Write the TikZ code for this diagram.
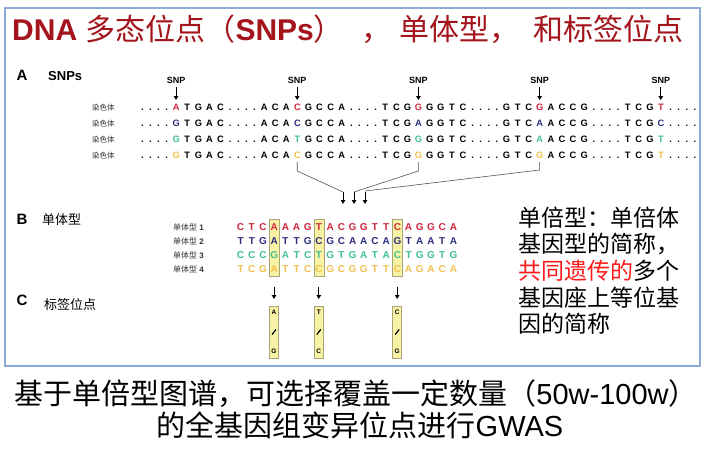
\documentclass[tikz,border=0pt]{standalone}
\usepackage{fontspec}
\setmainfont{Liberation Sans}
\newfontfamily\cjk{Noto Sans CJK SC}
\usetikzlibrary{arrows.meta}

\definecolor{framec}{HTML}{8EAADB}
\definecolor{titlered}{HTML}{A3141C}
\definecolor{sred}{HTML}{D0263A}
\definecolor{snavy}{HTML}{2B2F7E}
\definecolor{sgreen}{HTML}{3FBF98}
\definecolor{sgold}{HTML}{F1C04C}
\definecolor{hlfill}{HTML}{F8F3A4}
\definecolor{hlline}{HTML}{A9A37A}
\definecolor{linkc}{HTML}{555555}
\definecolor{notered}{HTML}{FF1A1A}

% chromosome rows: letters and dots on a fixed grid
\newcommand\cL[1]{\makebox[11.1pt][c]{#1}}
\newcommand\cD{\makebox[8.1pt][c]{.}}
\newcommand\cDots{\cD\cD\cD\cD}
\def\cSeq#1{\cSeqI#1\relax}
\def\cSeqI#1{\ifx\relax#1\else\cL{#1}\expandafter\cSeqI\fi}
\newcommand\chrom[6]{\cDots\cL{\textcolor{#1}{#2}}\cSeq{TGAC}\cDots
  \cSeq{ACA}\cL{\textcolor{#1}{#3}}\cSeq{GCCA}\cDots
  \cSeq{TCG}\cL{\textcolor{#1}{#4}}\cSeq{GGTC}\cDots
  \cSeq{GTC}\cL{\textcolor{#1}{#5}}\cSeq{ACCG}\cDots
  \cSeq{TCG}\cL{\textcolor{#1}{#6}}\cDots}

% haplotype rows: 20 letters on a fixed grid
\newcommand\hL[1]{\makebox[11.2pt][c]{#1}}
\def\hSeq#1{\hSeqI#1\relax}
\def\hSeqI#1{\ifx\relax#1\else\hL{#1}\expandafter\hSeqI\fi}

\tikzset{
  secletter/.style={font=\bfseries\fontsize{15}{15}\selectfont, inner sep=0pt},
  sectitle/.style={font=\fontsize{13}{13}\selectfont, inner sep=0pt, anchor=base west},
  snplabel/.style={font=\bfseries\fontsize{9}{9}\selectfont, inner sep=0pt},
  chrrow/.style={font=\bfseries\fontsize{9.3}{9.3}\selectfont, inner sep=0pt, anchor=base west},
  haprow/.style={font=\bfseries\fontsize{10}{10}\selectfont, inner sep=0pt, anchor=base west},
  rowlabel/.style={font=\cjk\fontsize{7.5}{7.5}\selectfont, inner sep=0pt, anchor=base west, text=black!80},
  downarrow/.style={-{Triangle[length=4pt,width=4.5pt]}, line width=1pt, black},
  link/.style={linkc, line width=0.6pt},
  hlbox/.style={fill=hlfill, draw=hlline, line width=0.5pt},
  markbox/.style={hlbox, minimum width=9pt, minimum height=52pt, inner sep=0pt},
  markletter/.style={font=\bfseries\fontsize{6.5}{6.5}\selectfont, inner sep=0pt},
  note/.style={font=\cjk\fontsize{23}{23}\selectfont, inner sep=0pt, anchor=base west},
  bottomline/.style={font=\fontsize{29}{29}\selectfont, inner sep=0pt, anchor=base},
}

\begin{document}
\begin{tikzpicture}[x=1pt,y=-1pt]
\useasboundingbox[fill=white] (0,0) rectangle (708,448);

% frame
\draw[framec, line width=1.3pt] (5,8) rectangle (700,366);

% heading
\node[inner sep=0pt, anchor=base west, text=titlered, font=\fontsize{30}{30}\selectfont]
  (title) at (12,40)
  {{\bfseries DNA} {\cjk 多态位点（}{\bfseries SNPs}{\cjk ）\hspace{18pt}，\hspace{8pt}单体型，\hspace{14pt}和标签位点}};

% ---------- A: SNPs ----------
\node[secletter] (secA) at (22,75) {A};
\node[sectitle, font=\bfseries\fontsize{13}{13}\selectfont] (titA) at (48,80) {SNPs};

\foreach \k in {1,...,5}{
  \pgfmathsetmacro\sx{176+(\k-1)*121.2}
  \coordinate (snp\k) at (\sx,0);
  \node[snplabel] (lab\k) at (\sx,80) {SNP};
  \draw[downarrow] (\sx,87) -- (\sx,100);
}

\foreach \r/\y in {1/110,2/126,3/142,4/158}{
  \node[rowlabel] (chl\r) at (92,\y) {染色体};
}
\node[chrrow] (chr1) at (138.05,110) {\chrom{sred}{A}{C}{G}{G}{T}};
\node[chrrow] (chr2) at (138.05,126) {\chrom{snavy}{G}{C}{A}{A}{C}};
\node[chrrow] (chr3) at (138.05,142) {\chrom{sgreen}{G}{T}{G}{A}{T}};
\node[chrrow] (chr4) at (138.05,158) {\chrom{sgold}{G}{C}{G}{G}{T}};

% links from SNP columns to the haplotype block
\coordinate (t1) at (343,192);
\coordinate (t2) at (354,192);
\coordinate (t3) at (365,191);
\draw[link] (snp2 |- 0,162) -- (snp2 |- 0,171) -- (t1);
\draw[link] (snp3 |- 0,162) -- (snp3 |- 0,171) -- (t2);
\draw[link] (snp4 |- 0,162) -- (snp4 |- 0,170) -- (t3);
\draw[downarrow] (t1) -- ++(0,12);
\draw[downarrow] (t2) -- ++(0,12);
\draw[downarrow] (t3 |- t1) -- ++(0,12);

% ---------- B: haplotypes ----------
\node[secletter] (secB) at (22,219) {B};
\node[sectitle, font=\cjk\fontsize{13}{13}\selectfont] (titB) at (42,224) {单体型};

\foreach \c/\n in {3/1,7/2,14/3}{
  \pgfmathsetmacro\hx{234.8+(\c+0.5)*11.2}
  \coordinate (col\n) at (\hx,0);
  \draw[hlbox] (\hx-5,219) rectangle (\hx+5,276);
}

\foreach \r/\y in {1/230,2/244,3/258,4/272}{
  \node[rowlabel, font=\fontsize{8}{8}\selectfont] (hpl\r) at (173,\y) {{\cjk 单体型} \textbf{\r}};
}
\node[haprow, text=sred]   (hap1) at (234.8,230) {\hSeq{CTCAAAGTACGGTTCAGGCA}};
\node[haprow, text=snavy]  (hap2) at (234.8,244) {\hSeq{TTGATTGCGCAACAGTAATA}};
\node[haprow, text=sgreen] (hap3) at (234.8,258) {\hSeq{CCCGATCTGTGATACTGGTG}};
\node[haprow, text=sgold]  (hap4) at (234.8,272) {\hSeq{TCGATTCCGCGGTTCAGACA}};

% ---------- C: tag SNPs ----------
\node[secletter] (secC) at (22,300) {C};
\node[sectitle, font=\cjk\fontsize{13}{13}\selectfont] (titC) at (44,309) {标签位点};

\foreach \n/\top/\bot in {1/A/G,2/T/C,3/C/G}{
  \draw[downarrow] (col\n |- 0,287) -- (col\n |- 0,299);
  \node[markbox] (mk\n) at (col\n |- 0,332) {};
  \node[markletter] (mkt\n) at ([yshift=-7pt]mk\n.north) {\top};
  \node[markletter] (mkb\n) at ([yshift=7pt]mk\n.south) {\bot};
  \draw[line width=1.2pt] ([xshift=-2pt,yshift=-2.5pt]mk\n.center) -- ([xshift=2pt,yshift=2.5pt]mk\n.center);
}

% ---------- note on the right ----------
\node[note] (n1) at (518,226) {单倍型：单倍体};
\node[note] (n2) at (518,252) {基因型的简称，};
\node[note] (n3) at (518,279) {\textcolor{notered}{共同遗传的}多个};
\node[note] (n4) at (518,306) {基因座上等位基};
\node[note] (n5) at (518,332) {因的简称};

% ---------- caption below the frame ----------
\node[bottomline] (b1) at (356,404) {{\cjk 基于单倍型图谱，可选择覆盖一定数量（}50w-100w{\cjk ）}};
\node[bottomline] (b2) at (360,436) {{\cjk 的全基因组变异位点进行}GWAS};
\end{tikzpicture}
\end{document}
